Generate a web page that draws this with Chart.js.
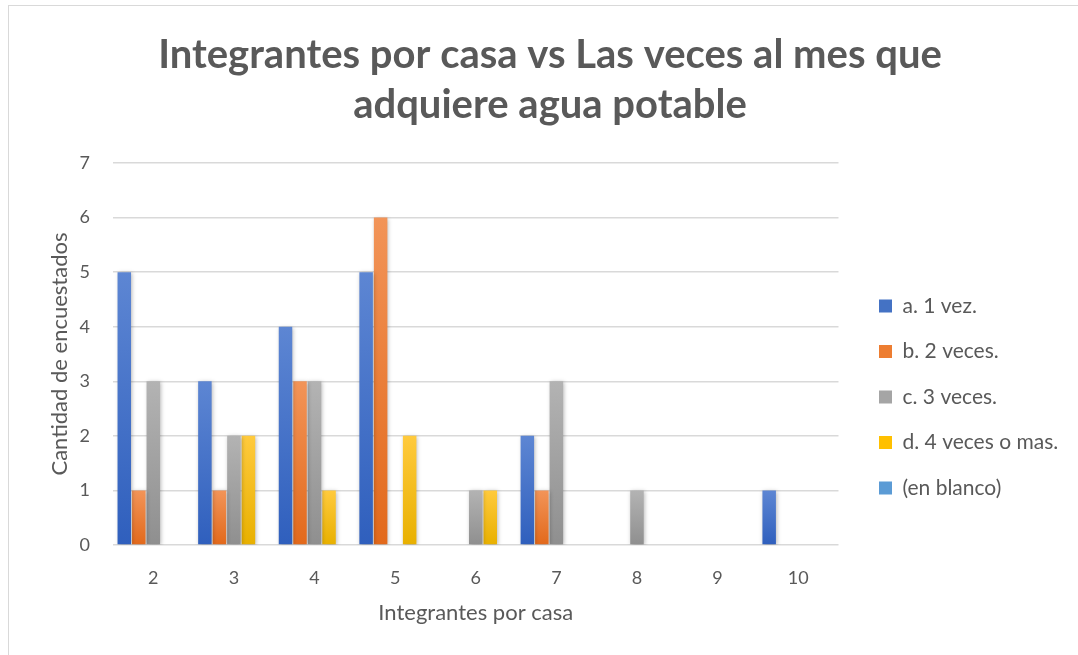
<!DOCTYPE html>
<html>
<head>
<meta charset="utf-8">
<script src="https://cdn.jsdelivr.net/npm/chart.js@4.4.0/dist/chart.umd.min.js"></script>
<style>
    html, body { margin: 0; padding: 0; background: #ffffff; overflow: hidden; }
    #frame { position: absolute; left: 8px; top: 5px; width: 1200px; height: 800px;
             border-left: 1px solid #d9d9d9; border-top: 1px solid #d9d9d9; }
    #wrap { position: absolute; left: 0; top: 0; width: 1078px; height: 655px; }
</style>
</head>
<body>
<div id="frame"></div>
<div id="wrap"><canvas id="aguaChart"></canvas></div>
<script>
// Datos
const categorias = ["2", "3", "4", "5", "6", "7", "8", "9", "10"];
const unaVez = [5, 3, 4, 5, 0, 2, 0, 0, 1];
const dosVeces = [1, 1, 3, 6, 0, 1, 0, 0, 0];
const tresVeces = [3, 2, 3, 0, 1, 3, 1, 0, 0];
const cuatroVeces = [0, 2, 1, 2, 1, 0, 0, 0, 0];
const enBlanco = [0, 0, 0, 0, 0, 0, 0, 0, 0];
const nombresSeries = ["a. 1 vez.", "b. 2 veces.", "c. 3 veces.", "d. 4 veces o mas.", "(en blanco)"];
const yTicks = [0, 1, 2, 3, 4, 5, 6, 7];

const FONT = "Lato";
const TEXT = "#595959";
const LEGEND_SIZE = 21;
const LEGEND_PAD = 24.5;

// colores tipo Office: claro arriba, oscuro abajo
const colores = [
    { top: "#5d86d3", bottom: "#2f5fbd", solid: "#4472c4" },
    { top: "#f29458", bottom: "#e2691b", solid: "#ed7d31" },
    { top: "#b3b3b3", bottom: "#8f8f8f", solid: "#a5a5a5" },
    { top: "#ffca3d", bottom: "#e8b000", solid: "#ffc000" },
    { top: "#6fa9dd", bottom: "#4586c6", solid: "#5b9bd5" },
];

function barGradient(c) {
    return function (context) {
        const chart = context.chart;
        if (!chart.chartArea || context.type !== "data" || !chart.scales.y) return c.solid;
        const yScale = chart.scales.y;
        const y0 = yScale.getPixelForValue(0);
        const y1 = yScale.getPixelForValue(context.raw || 0);
        if (Math.abs(y0 - y1) < 0.5) return c.solid;
        const g = chart.ctx.createLinearGradient(0, y1, 0, y0);
        g.addColorStop(0, c.top);
        g.addColorStop(1, c.bottom);
        return g;
    };
}

const barShadow = {
    id: "barShadow",
    beforeDatasetsDraw(chart) {
        const ctx = chart.ctx;
        ctx.save();
        ctx.shadowColor = "rgba(0,0,0,0.28)";
        ctx.shadowBlur = 4;
        ctx.shadowOffsetX = 1;
        ctx.shadowOffsetY = 1;
    },
    afterDatasetsDraw(chart) {
        chart.ctx.restore();
    },
};

// ancho de la leyenda para ubicarla como en el original
const measure = document.createElement("canvas").getContext("2d");
measure.font = LEGEND_SIZE + "px " + FONT;
const maxText = Math.max(...nombresSeries.map((n) => measure.measureText(n).width));
const legendWidth = LEGEND_PAD + 13 + LEGEND_SIZE / 2 + maxText + 10;
const legendLeft = 879 - LEGEND_PAD;
const padRight = 1078 - legendLeft - legendWidth;
const padLeft = 22 + padRight; // titulo centrado en x=550

const series = [unaVez, dosVeces, tresVeces, cuatroVeces, enBlanco];

new Chart(document.getElementById("aguaChart"), {
    type: "bar",
    data: {
        labels: categorias,
        datasets: series.map((data, i) => ({
            label: nombresSeries[i],
            data: data,
            backgroundColor: barGradient(colores[i]),
            borderWidth: 0,
            categoryPercentage: 0.9,
            barPercentage: 0.93,
        })),
    },
    options: {
        responsive: true,
        maintainAspectRatio: false,
        animation: false,
        layout: { padding: { left: padLeft, right: padRight, top: 0, bottom: 0 } },
        plugins: {
            title: {
                display: true,
                text: ["Integrantes por casa vs Las veces al mes que", "adquiere agua potable"],
                color: TEXT,
                font: { family: FONT, size: 40, weight: "bold", lineHeight: 50 / 40 },
                padding: { top: 30, bottom: 33 },
            },
            legend: {
                position: "right",
                align: "start",
                fullSize: true,
                maxWidth: 400,
                title: { display: true, text: " ", font: { size: 12 }, padding: { top: 256.6, bottom: 0 } },
                labels: {
                    color: TEXT,
                    font: { family: FONT, size: LEGEND_SIZE },
                    boxWidth: 13,
                    boxHeight: 13,
                    padding: LEGEND_PAD,
                    generateLabels: function (chart) {
                        const items = Chart.defaults.plugins.legend.labels.generateLabels(chart);
                        items.forEach((item, i) => {
                            item.fillStyle = colores[i].solid;
                            item.strokeStyle = colores[i].solid;
                            item.lineWidth = 0;
                        });
                        return items;
                    },
                },
            },
            tooltip: { enabled: false },
        },
        scales: {
            x: {
                grid: { display: false, drawTicks: false, tickLength: 0 },
                border: { display: false },
                ticks: { color: TEXT, font: { family: FONT, size: 18 }, padding: 22 },
                title: {
                    display: true,
                    text: "Integrantes por casa",
                    color: TEXT,
                    font: { family: FONT, size: 22 },
                    padding: { top: 0, bottom: 28.8 },
                },
                afterFit: function (scale) {
                    scale.height = 110;
                },
            },
            y: {
                min: 0,
                max: 7,
                afterBuildTicks: function (scale) {
                    scale.ticks = yTicks.map((v) => ({ value: v }));
                },
                grid: { color: "#d9d9d9", lineWidth: 1.5, drawTicks: false, tickLength: 0 },
                border: { display: false },
                ticks: { color: TEXT, font: { family: FONT, size: 18 }, padding: 23 },
                title: {
                    display: true,
                    text: "Cantidad de encuestados",
                    color: TEXT,
                    font: { family: FONT, size: 22 },
                    padding: { top: 60 - 13.2 - padLeft, bottom: 0 },
                },
                afterFit: function (scale) {
                    scale.width = 113 - padLeft;
                },
            },
            espacio: {
                position: "right",
                display: true,
                grid: { display: false },
                border: { display: false },
                ticks: { display: false },
                afterFit: function (scale) {
                    scale.width = 16;
                },
            },
        },
    },
    plugins: [barShadow],
});
</script>
</body>
</html>
